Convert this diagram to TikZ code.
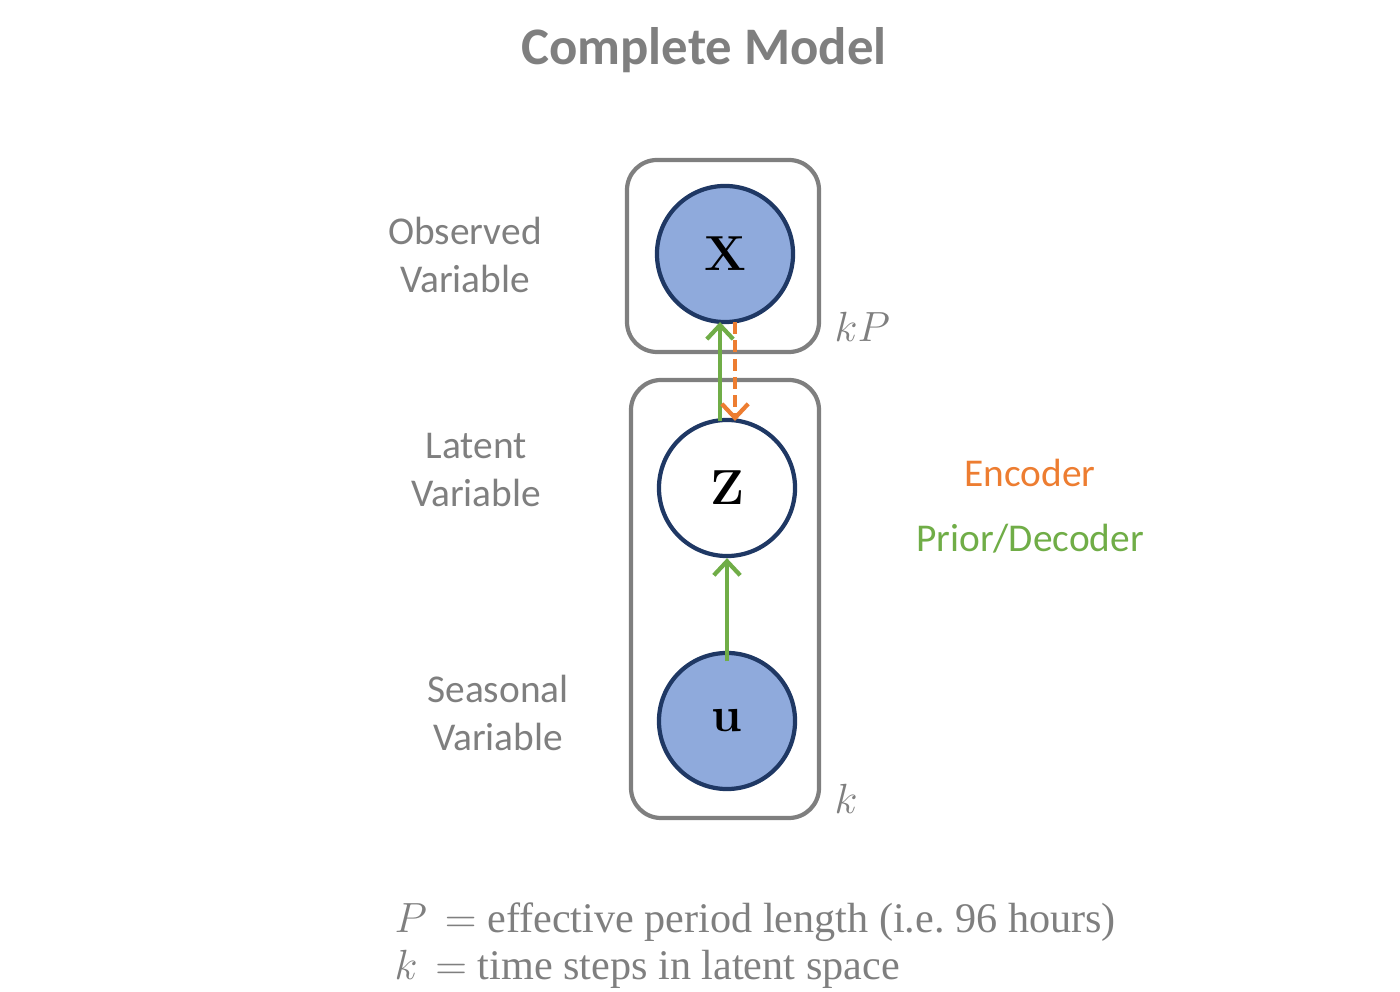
\documentclass[tikz,border=0pt]{standalone}
\usepackage{fontspec}
\newfontfamily\calibri{Carlito}
\newfontfamily\legendserif{Liberation Serif}
\usetikzlibrary{positioning,arrows.meta}
\definecolor{ModelGray}{RGB}{127,127,127}
\definecolor{NodeBlue}{RGB}{143,170,220}
\definecolor{NodeNavy}{RGB}{31,56,100}
\definecolor{PriorGreen}{RGB}{112,173,71}
\definecolor{EncOrange}{RGB}{237,125,49}
\tikzset{
  var/.style={circle,draw=NodeNavy,line width=1.2pt,fill=white,minimum size=1.36cm,inner sep=0pt,
    font=\bfseries\fontsize{14}{14}\selectfont},
  obs/.style={var,fill=NodeBlue},
  plate/.style={draw=ModelGray,line width=1.2pt,rounded corners=0.3cm},
  side/.style={text=ModelGray,align=center,font=\calibri\fontsize{11.2}{13.4}\selectfont},
  platelab/.style={text=ModelGray,inner sep=0pt,font=\fontsize{12.5}{12.5}\selectfont},
}
\tikzset{gen/.style={draw=PriorGreen,line width=1.2pt,-{Straight Barb[length=4pt,width=7.5pt]}},
  enc/.style={draw=EncOrange,line width=1.2pt,dash pattern=on 3.4pt off 1.8pt,-{Straight Barb[length=4pt,width=7.5pt]}}}

\begin{document}
\begin{tikzpicture}[x=0.01cm,y=-0.01cm]
\useasboundingbox (0,0) rectangle (1400,992);
\node[text=ModelGray,font=\calibri\bfseries\fontsize{15}{15}\selectfont] (title) at (704,50) {Complete Model};
\draw[plate] (627,160) rectangle (819,352);
\draw[plate] (631,380) rectangle (819,818);
\node[obs] (x) at (725,254) {X};
\node[var] (z) at (727,488) {Z};
\node[obs] (u) at (727,721) {u};
\coordinate (xl) at (720,322);
\coordinate (xr) at (735,322);
\coordinate (zl) at (720,421);
\coordinate (zr) at (735,421);
\draw[gen] (zl) -- (xl);
\draw[enc] (xr) -- (zr);
\draw[gen] ([yshift=-3pt]u.north) -- (z.south);
\node[platelab,anchor=base west] (kp) at (834,342) {$kP$};
\node[platelab,anchor=base west] (k) at (834,814) {$k$};
\node[side] (obslab) at (465,255) {Observed\\Variable};
\node[side] (latlab) at (476,470) {Latent\\Variable};
\node[side] (seaslab) at (498,713) {Seasonal\\Variable};
\node[side,text=EncOrange] (enclab) at (1030,473) {Encoder};
\node[side,text=PriorGreen] (genlab) at (1030,539) {Prior/Decoder};
\node[text=ModelGray,inner sep=0pt,anchor=base west,align=left,font=\legendserif\fontsize{12}{13.4}\selectfont] (legend) at (394,980)
  {$P$ \,$=$ effective period length (i.e.\ 96 hours)\\ $k$ \,$=$ time steps in latent space};
\end{tikzpicture}
\end{document}
